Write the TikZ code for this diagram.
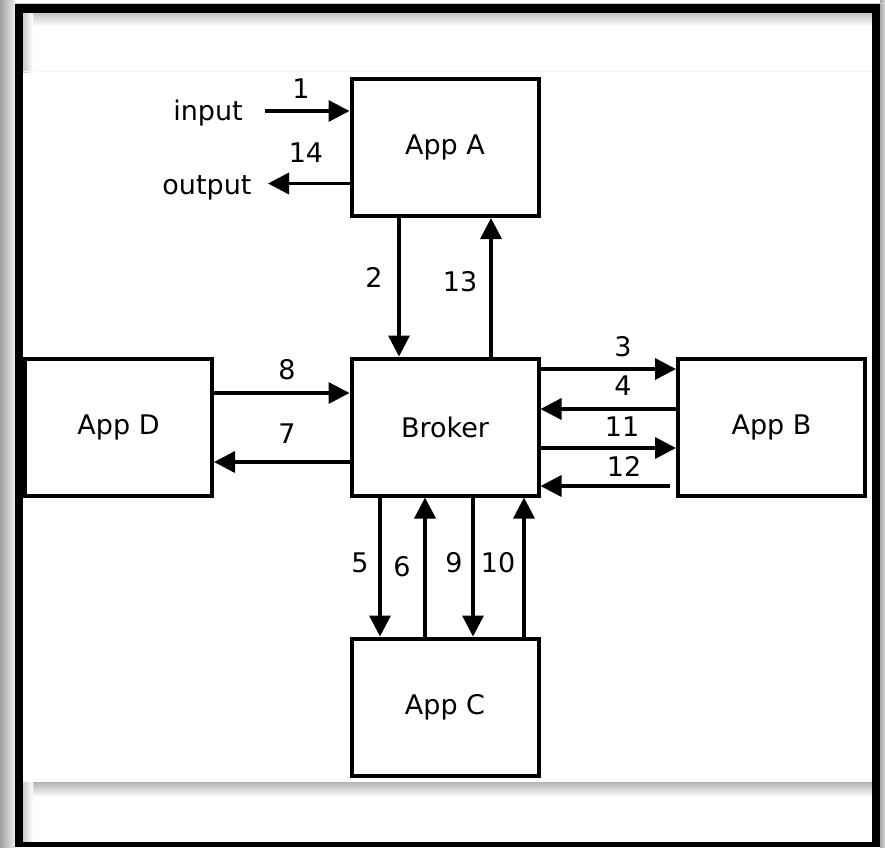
\documentclass[tikz,border=0pt]{standalone}
\usepackage{fontspec}
\setmainfont{DejaVu Sans}
\usetikzlibrary{arrows.meta}
\begin{document}
\begin{tikzpicture}[x=1pt,y=-1pt,
  box/.style={draw, line width=4pt, minimum width=187pt, minimum height=137pt, inner sep=0pt, font=\fontsize{27}{31}\selectfont},
  lbl/.style={font=\fontsize{27}{31}\selectfont, inner sep=0pt},
  arr/.style={line width=3.5pt, -{Triangle[length=21pt,width=21pt]}}]
\useasboundingbox (0,0) rectangle (885,847);
% ---- frame ----
\fill[white] (0,0) rectangle (885,847);
\shade[left color=gray!75, right color=gray!15] (0,0) rectangle (15,847);
\shade[left color=gray!70, right color=gray!30] (880,0) rectangle (885,847);
\fill[gray!40] (15,2.5) rectangle (885,4);
% top band inner shadow
\shade[top color=gray!45, bottom color=white] (23,13) rectangle (872,26);
\shade[left color=gray!40, right color=white] (23,13) rectangle (33,72);
\fill[gray!6] (23,71) rectangle (872,72);
% bottom band
\shade[top color=gray!60, bottom color=white] (23,782) rectangle (872,797);
\shade[left color=gray!40, right color=white] (23,782) rectangle (33,842);
% black frame
\fill[black] (15,4) rectangle (880,13);
\fill[black] (15,4) rectangle (23,847);
\fill[black] (872,4) rectangle (880,847);
\fill[black] (15,842) rectangle (880,847);
% ---- nodes ----
\node[box] (A) at (445,147.5) {App A};
\node[box] (K) at (445,427) {Broker};
\node[box] (D) at (118.5,427) {App D};
\node[box] (B) at (771.5,427) {App B};
\node[box] (C) at (445,707) {App C};
\node[lbl] (in) at (208,113) {input};
\node[lbl] (out) at (207,188) {output};
\coordinate (inS) at (265,111);
\coordinate (outE) at (268,183.5);
\coordinate (s12) at (670,486);
% ---- connectors ----
\draw[arr] (inS) -- ([yshift=36.5pt]A.west);
\draw[arr] ([yshift=-36pt]A.west) -- (outE);
\draw[arr] ([xshift=-46pt]A.south) -- ([xshift=-46pt]K.north);
\draw[arr] ([xshift=46pt]K.north) -- ([xshift=46pt]A.south);
\draw[arr] ([yshift=34pt]D.east) -- ([yshift=34pt]K.west);
\draw[arr] ([yshift=-35pt]K.west) -- ([yshift=-35pt]D.east);
\draw[arr] ([yshift=58pt]K.east) -- ([yshift=58pt]B.west);
\draw[arr] ([yshift=18pt]B.west) -- ([yshift=18pt]K.east);
\draw[arr] ([yshift=-21pt]K.east) -- ([yshift=-21pt]B.west);
\draw[arr] (s12) -- ([yshift=-59pt]K.east);
\draw[arr] ([xshift=-65pt]K.south) -- ([xshift=-65pt]C.north);
\draw[arr] ([xshift=-20pt]C.north) -- ([xshift=-20pt]K.south);
\draw[arr] ([xshift=28pt]K.south) -- ([xshift=28pt]C.north);
\draw[arr] ([xshift=79pt]C.north) -- ([xshift=79pt]K.south);
% ---- labels ----
\node[lbl] (l1) at (301,89) {1};
\node[lbl] (l14) at (306,153) {14};
\node[lbl] (l2) at (374,277) {2};
\node[lbl] (l13) at (460,282) {13};
\node[lbl] (l8) at (287,370) {8};
\node[lbl] (l7) at (287,434) {7};
\node[lbl] (l3) at (623,347) {3};
\node[lbl] (l4) at (623,386) {4};
\node[lbl] (l11) at (622,427) {11};
\node[lbl] (l12) at (624,466) {12};
\node[lbl] (l5) at (360,563) {5};
\node[lbl] (l6) at (402,567) {6};
\node[lbl] (l9) at (454,563) {9};
\node[lbl] (l10) at (498,563) {10};
\end{tikzpicture}
\end{document}
